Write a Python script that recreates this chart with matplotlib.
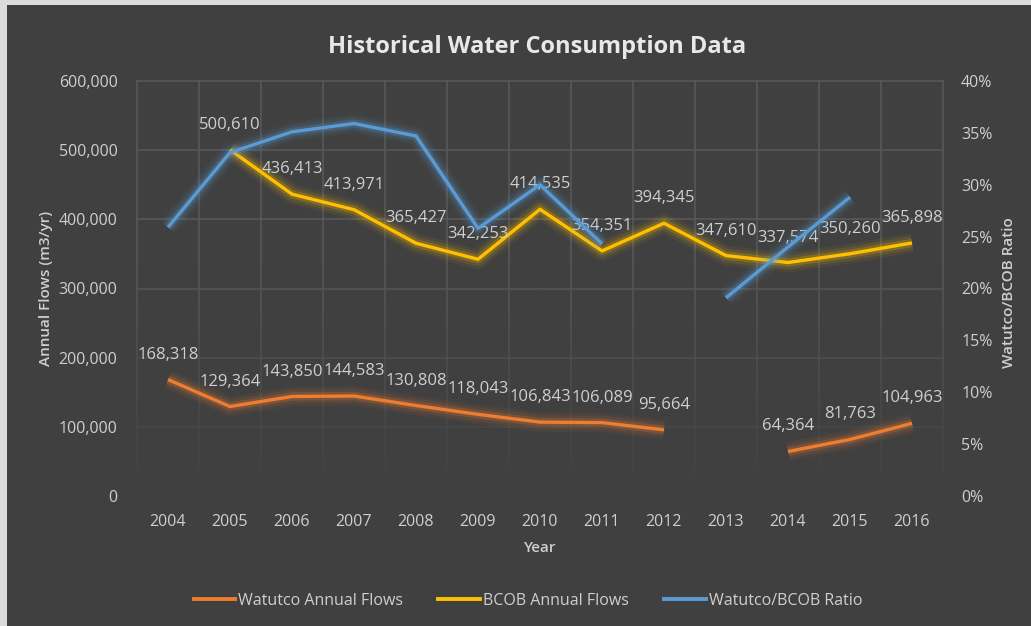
import numpy as np
import matplotlib
matplotlib.use("Agg")
import matplotlib.pyplot as plt
import matplotlib.patheffects as pe
from matplotlib.patches import Rectangle
from matplotlib.lines import Line2D
from matplotlib.ticker import FuncFormatter, MultipleLocator

years = ["2004", "2005", "2006", "2007", "2008", "2009", "2010",
         "2011", "2012", "2013", "2014", "2015", "2016"]
watutco = [168318, 129364, 143850, 144583, 130808, 118043, 106843,
           106089, 95664, np.nan, 64364, 81763, 104963]
bcob = [np.nan, 500610, 436413, 413971, 365427, 342253, 414535,
        354351, 394345, 347610, 337574, 350260, 365898]
ratio = [0.259, 0.331, 0.351, 0.359, 0.347, 0.258, 0.300,
         0.243, np.nan, 0.191, 0.240, 0.288, np.nan]

BG = "#404040"
GRID = "#5a5a5a"
TXT = "#cfcfcf"
C_W = "#ED7D31"
C_B = "#FFC000"
C_R = "#5B9BD5"

plt.rcParams["font.family"] = ["Open Sans", "DejaVu Sans"]

fig = plt.figure(figsize=(10.31, 6.26), dpi=100, facecolor=BG)
fig.patches.append(Rectangle((0, 1 - 5 / 626), 1, 5 / 626, transform=fig.transFigure,
                             facecolor="#dcdcdc", edgecolor="none", zorder=-5))
fig.patches.append(Rectangle((0, 0), 7 / 1031, 1, transform=fig.transFigure,
                             facecolor="#dcdcdc", edgecolor="none", zorder=-5))

L, R, B, T = 137 / 1031, 943 / 1031, 1 - 496 / 626, 1 - 81 / 626
ax = fig.add_axes([L, B, R - L, T - B])
ax.set_facecolor(BG)
ax2 = ax.twinx()
ax2.patch.set_visible(False)

x = np.arange(len(years))
YMAX = 600000


def glow(c):
    return [pe.Stroke(linewidth=14, foreground=c, alpha=0.06),
            pe.Stroke(linewidth=10, foreground=c, alpha=0.10),
            pe.Stroke(linewidth=6, foreground=c, alpha=0.22),
            pe.Normal()]


ax.plot(x, watutco, color=C_W, lw=2.4, zorder=4, path_effects=glow(C_W),
        solid_capstyle="butt", label="Watutco Annual Flows")
ax.plot(x, bcob, color=C_B, lw=2.4, zorder=4, path_effects=glow(C_B),
        solid_capstyle="butt", label="BCOB Annual Flows")
ax2.plot(x, ratio, color=C_R, lw=2.4, zorder=4, path_effects=glow(C_R),
         solid_capstyle="butt", label="Watutco/BCOB Ratio")

for xi, v in zip(x, watutco):
    if not np.isnan(v):
        ax.annotate(f"{v:,.0f}", (xi, v), xytext=(0, 18), textcoords="offset points",
                    ha="center", va="center", color=TXT, fontsize=12, zorder=6)
for xi, v in zip(x, bcob):
    if not np.isnan(v):
        ax.annotate(f"{v:,.0f}", (xi, v), xytext=(0, 18), textcoords="offset points",
                    ha="center", va="center", color=TXT, fontsize=12, zorder=6)

# fade gridlines toward the bottom of the plot area (drawn in data coords)
n = 256
yy = np.linspace(1.0, -0.02, n)
alpha = np.clip(1 - yy / 0.55, 0, 1)
bgc = np.array([0x40, 0x40, 0x40]) / 255
grad = np.zeros((n, 1, 4))
grad[:, 0, :3] = bgc
grad[:, 0, 3] = alpha
ax.imshow(grad, extent=[-0.52, len(years) - 0.48, -0.02 * YMAX, YMAX], aspect="auto",
          zorder=1, interpolation="bilinear", clip_on=False)

ax.set_xlim(-0.5, len(years) - 0.5)
ax.set_ylim(0, YMAX)
ax2.set_ylim(0, 0.40)

ax.yaxis.set_major_locator(MultipleLocator(100000))
ax.yaxis.set_major_formatter(FuncFormatter(lambda v, p: f"{v:,.0f}"))
ax2.yaxis.set_major_locator(MultipleLocator(0.05))
ax2.yaxis.set_major_formatter(FuncFormatter(lambda v, p: f"{v:.0%}"))
ax.set_xticks(x)
ax.set_xticklabels(years)
ax.set_xticks(np.arange(-0.5, len(years)), minor=True)

ax.grid(axis="y", which="major", color=GRID, lw=1.1, zorder=0.5)
ax.grid(axis="x", which="minor", color=GRID, lw=1.1, zorder=0.5)
ax.set_axisbelow(True)
for gl in ax.get_ygridlines():
    gl.set_clip_on(False)
for tk in ax.xaxis.get_minor_ticks():
    tk.gridline.set_clip_on(False)

for a in (ax, ax2):
    for s in a.spines.values():
        s.set_visible(False)

ax.tick_params(axis="both", which="both", length=0, colors=TXT, labelsize=11.5)
ax.tick_params(axis="y", pad=14)
ax.tick_params(axis="x", pad=13)
ax2.tick_params(axis="y", length=0, colors=TXT, labelsize=11.5, pad=13)

ax.set_ylabel("Annual Flows (m3/yr)", color=TXT, fontsize=11, fontweight="semibold")
ax.yaxis.set_label_coords((53 - 137) / 806, 0.5)
ax2.set_ylabel("Watutco/BCOB Ratio", color=TXT, fontsize=11, fontweight="semibold")
ax2.yaxis.set_label_coords((1002 - 137) / 806, (496 - 293) / 415)
ax.set_xlabel("Year", color=TXT, fontsize=11, fontweight="semibold")
ax.xaxis.set_label_coords(0.5, (496 - 541) / 415)

fig.text(537 / 1031, 1 - 47 / 626, "Historical Water Consumption Data",
         ha="center", va="center", color="#e8e8e8", fontsize=17, fontweight="bold")

handles = [Line2D([], [], color=C_W, lw=2.8), Line2D([], [], color=C_B, lw=2.8),
           Line2D([], [], color=C_R, lw=2.8)]
labels = ["Watutco Annual Flows", "BCOB Annual Flows", "Watutco/BCOB Ratio"]
leg = fig.legend(handles, labels, loc="center", bbox_to_anchor=(528 / 1031, 1 - 601 / 626),
                 ncol=3, frameon=False, fontsize=11.5, handlelength=2.6,
                 handletextpad=0.2, columnspacing=2.2)
for t in leg.get_texts():
    t.set_color(TXT)

fig.savefig("out.png", dpi=100, facecolor=BG)
